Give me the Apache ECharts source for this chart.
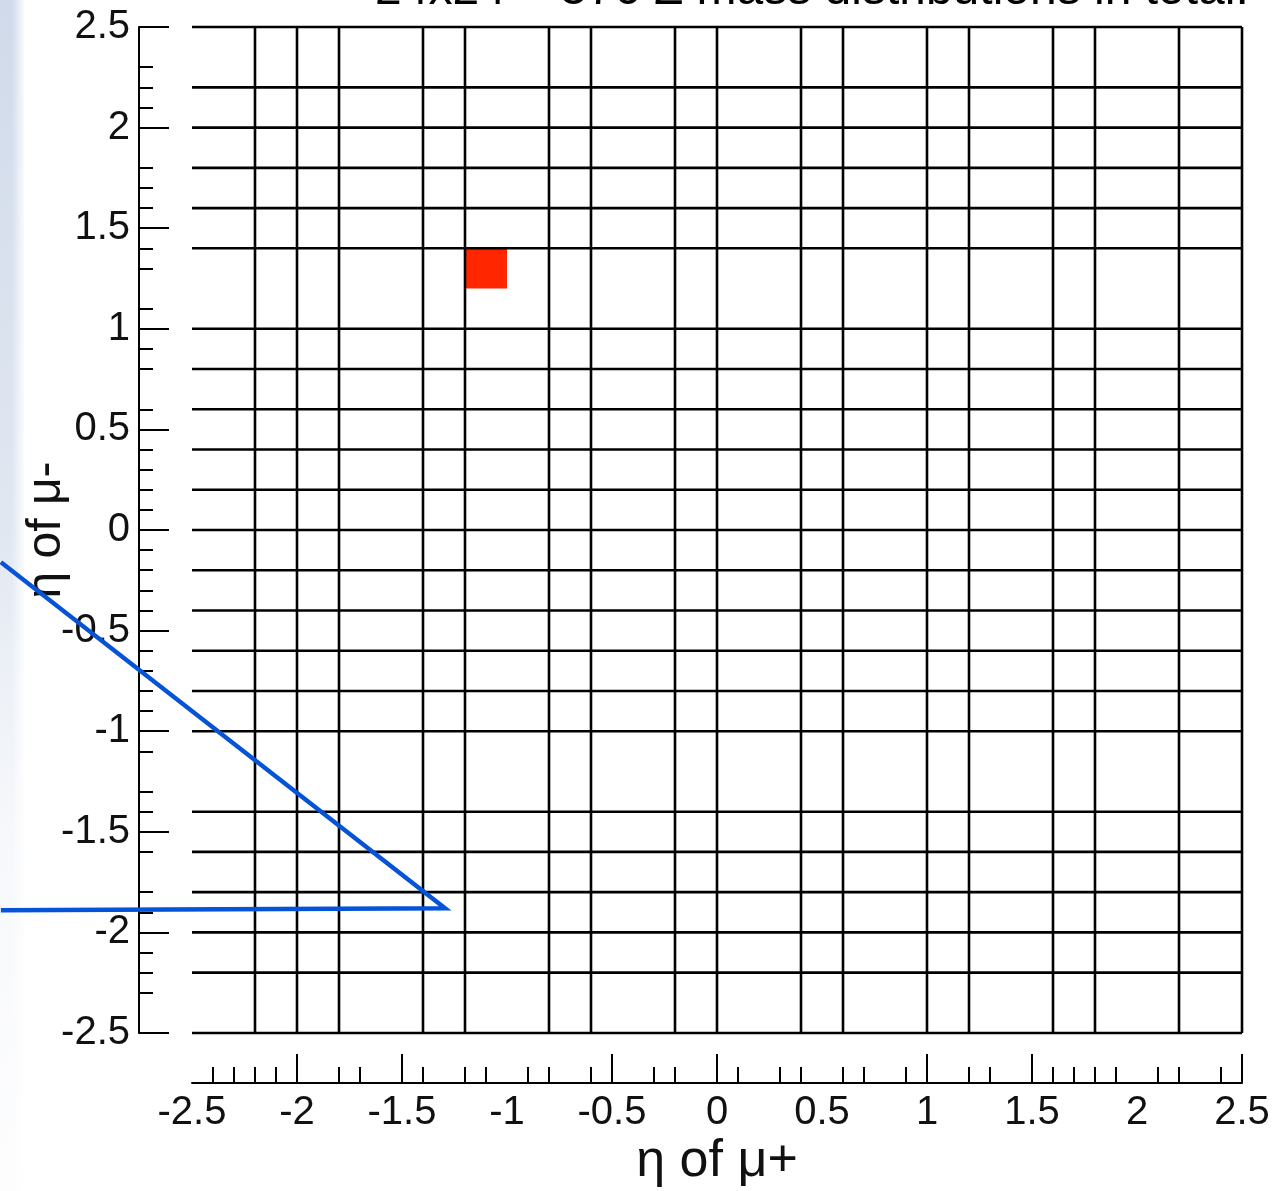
<!DOCTYPE html>
<html><head><meta charset="utf-8">
<script src="https://cdn.jsdelivr.net/npm/echarts@6/dist/echarts.min.js"></script>
<style>html,body{margin:0;padding:0;background:#fff}#c{width:1272px;height:1191px}</style>
</head><body><div id="c"></div>
<script>
// ---- data ----
const titleText = '24x24 = 576 Z mass distributions in total.';
const xAxisName = 'η of μ+';
const yAxisName = 'η of μ-';
const axisMin = -2.5, axisMax = 2.5;
const tickLabels = [-2.5, -2, -1.5, -1, -0.5, 0, 0.5, 1, 1.5, 2, 2.5];
const xMajorTicks = [-2, -1.5, -0.5, 0, 1, 1.5, 2.5];
const xMinorTicks = [-2.4, -2.3, -2.2, -2.1, -1.8, -1.7, -1.4, -1.2, -1.1, -0.9, -0.8, -0.6, -0.3, -0.2,
                     0.1, 0.3, 0.4, 0.6, 0.7, 0.9, 1.2, 1.3, 1.6, 1.7, 1.8, 1.9, 2.1, 2.2, 2.4];
const yMajorTicks = [-2.5, -2, -1.5, -1, -0.5, 0, 0.5, 1, 1.5, 2, 2.5];
const yMinorTicks = [2.3, 2.2, 2.1, 1.8, 1.7, 1.6, 1.4, 1.3, 1.1, 0.9, 0.8, 0.6, 0.4, 0.3, 0.2, 0.1,
                     -0.1, -0.2, -0.3, -0.4, -0.6, -0.7, -0.8, -0.9, -1.1, -1.3, -1.4, -1.6, -1.8, -1.9,
                     -2.1, -2.2, -2.3];
const xEdges = [-2.2, -2.0, -1.8, -1.4, -1.2, -0.8, -0.6, -0.2, 0, 0.4, 0.6, 1.0, 1.2, 1.6, 1.8, 2.2, 2.5];
const yEdges = [2.5, 2.2, 2.0, 1.8, 1.6, 1.4, 1.0, 0.8, 0.6, 0.4, 0.2, 0, -0.2, -0.4, -0.6, -0.8, -1.0,
                -1.4, -1.6, -1.8, -2.0, -2.2, -2.5];
const highlightCellX = [-1.2, -1.0];
const highlightCellY = [1.2, 1.4];
const pointerX = [-3.41, -1.295, -3.41];
const pointerY = [-0.16, -1.88, -1.89];

// ---- chart ----
const FONT = 'Liberation Sans, Arial, sans-serif';
const chart = echarts.init(document.getElementById('c'));

function lineItem(p1, p2) {
  return { type: 'line', shape: { x1: p1[0], y1: p1[1], x2: p2[0], y2: p2[1] },
           style: { stroke: '#000', lineWidth: 2.6 } };
}

const baseX = {
  type: 'value', min: axisMin, max: axisMax, position: 'bottom', offset: 50,
  splitLine: { show: false }
};
const baseY = {
  type: 'value', min: axisMin, max: axisMax, position: 'left', offset: 53,
  splitLine: { show: false }
};

chart.setOption({
  animation: false,
  backgroundColor: '#fff',
  graphic: [
    { type: 'rect', left: 0, top: 0, shape: { width: 24, height: 1191 }, silent: true, z: -10,
      style: { fill: new echarts.graphic.LinearGradient(0, 0, 0, 1, [
        { offset: 0, color: 'rgba(208,218,234,1)' },
        { offset: 0.45, color: 'rgba(222,229,240,0.9)' },
        { offset: 0.7, color: 'rgba(240,243,248,0.6)' },
        { offset: 1, color: 'rgba(250,250,252,0.4)' }]) } },
    { type: 'rect', left: 12, top: 0, shape: { width: 14, height: 1191 }, silent: true, z: -9,
      style: { fill: new echarts.graphic.LinearGradient(0, 0, 1, 0, [
        { offset: 0, color: 'rgba(255,255,255,0)' },
        { offset: 1, color: 'rgba(255,255,255,1)' }]) } },
    { type: 'text', left: 375, top: -33, silent: true,
      style: { text: titleText, font: '48px ' + FONT, fill: '#000' } }
  ],
  grid: { left: 192, right: 30, top: 27, bottom: 158, containLabel: false, outerBoundsMode: 'none' },
  xAxis: [
    Object.assign({}, baseX, {
      axisLine: { show: true, onZero: false, lineStyle: { color: '#000', width: 2 } },
      axisTick: { show: true, inside: true, length: 29, customValues: xMajorTicks,
                  lineStyle: { color: '#000', width: 2 } },
      axisLabel: { show: true, customValues: tickLabels, margin: 10, color: '#111',
                   fontSize: 40, fontFamily: FONT },
      name: xAxisName, nameLocation: 'middle', nameGap: 53, nameMoveOverlap: false,
      nameTextStyle: { fontSize: 52, fontFamily: FONT, color: '#111' }
    }),
    Object.assign({}, baseX, {
      axisLine: { show: false, onZero: false },
      axisTick: { show: true, inside: true, length: 16, customValues: xMinorTicks,
                  lineStyle: { color: '#000', width: 2 } },
      axisLabel: { show: false }
    })
  ],
  yAxis: [
    Object.assign({}, baseY, {
      axisLine: { show: true, onZero: false, lineStyle: { color: '#000', width: 2 } },
      axisTick: { show: true, inside: true, length: 30, customValues: yMajorTicks,
                  lineStyle: { color: '#000', width: 2 } },
      axisLabel: { show: true, customValues: tickLabels, margin: 9, color: '#111',
                   fontSize: 40, fontFamily: FONT },
      name: yAxisName, nameLocation: 'middle', nameGap: 68, nameMoveOverlap: false,
      nameTextStyle: { fontSize: 48, fontFamily: FONT, color: '#111' }
    }),
    Object.assign({}, baseY, {
      axisLine: { show: false, onZero: false },
      axisTick: { show: true, inside: true, length: 14, customValues: yMinorTicks,
                  lineStyle: { color: '#000', width: 2 } },
      axisLabel: { show: false }
    })
  ],
  series: [
    {
      type: 'custom', name: 'highlight', xAxisIndex: 0, yAxisIndex: 0, z: 1, silent: true,
      data: [[highlightCellX[0], highlightCellY[1], highlightCellX[1], highlightCellY[0]]],
      renderItem: (params, api) => {
        const a = api.coord([api.value(0), api.value(1)]);
        const b = api.coord([api.value(2), api.value(3)]);
        return { type: 'rect', shape: { x: a[0], y: a[1], width: b[0] - a[0], height: b[1] - a[1] },
                 style: { fill: '#ff2600' } };
      }
    },
    {
      type: 'custom', name: 'xEdges', xAxisIndex: 0, yAxisIndex: 0, z: 2, silent: true,
      data: xEdges.map(v => [v, 0]),
      renderItem: (params, api) => {
        const v = api.value(0);
        return lineItem(api.coord([v, axisMin]), api.coord([v, axisMax]));
      }
    },
    {
      type: 'custom', name: 'yEdges', xAxisIndex: 0, yAxisIndex: 0, z: 2, silent: true,
      data: yEdges.map(v => [0, v]),
      renderItem: (params, api) => {
        const v = api.value(1);
        return lineItem(api.coord([axisMin, v]), api.coord([axisMax, v]));
      }
    },
    {
      type: 'custom', name: 'pointer', xAxisIndex: 0, yAxisIndex: 0, z: 10, silent: true,
      clip: false,
      data: [[0, 0]],
      renderItem: (params, api) => {
        const pts = pointerX.map((x, i) => api.coord([x, pointerY[i]]));
        return { type: 'polyline', shape: { points: pts },
                 style: { stroke: '#0553d6', lineWidth: 4.5, fill: null, lineJoin: 'miter' } };
      }
    }
  ]
});
</script></body></html>
